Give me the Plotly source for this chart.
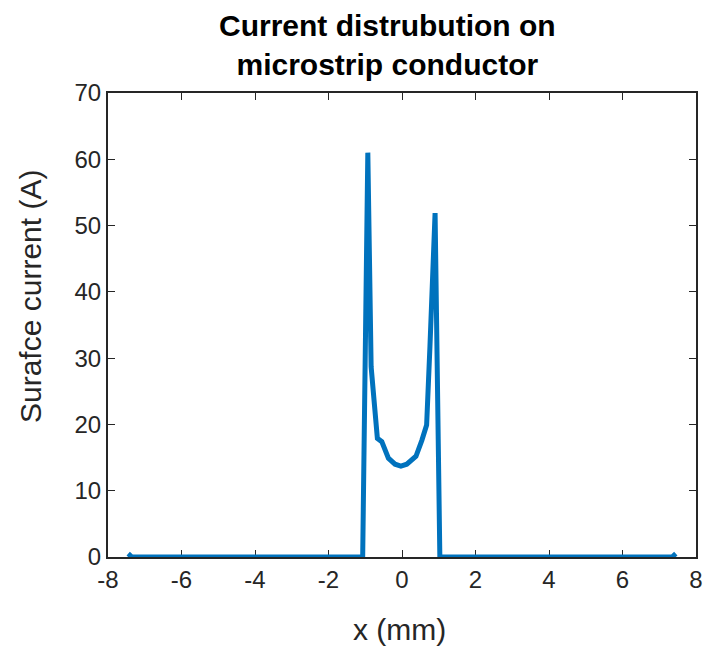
import plotly.graph_objects as go

x_mm = [-7.45, -7.35, -1.07, -0.93, -0.84, -0.67, -0.55, -0.37, -0.19, -0.03, 0.13, 0.38, 0.54, 0.67, 0.76, 0.90, 1.03, 7.35, 7.45]
current_A = [0.5, 0.0, 0.0, 61.0, 28.7, 17.9, 17.4, 14.9, 14.0, 13.7, 14.0, 15.2, 17.6, 19.9, 31.7, 51.9, 0.0, 0.0, 0.5]

x_ticks = [-8, -6, -4, -2, 0, 2, 4, 6, 8]
y_ticks = [0, 10, 20, 30, 40, 50, 60, 70]

axis_col = "#262626"
font_fam = "Liberation Sans, Arial, sans-serif"

fig = go.Figure()
fig.add_trace(go.Scatter(x=x_mm, y=current_A, mode="lines",
                         line=dict(color="#0072BD", width=5), showlegend=False))

fig.update_layout(
    width=703, height=648,
    margin=dict(l=108, r=7, t=93, b=91),
    paper_bgcolor="white", plot_bgcolor="white",
    font=dict(family=font_fam, color=axis_col),
    annotations=[
        dict(text="<b>Current distrubution on<br>microstrip conductor</b>",
             xref="paper", yref="paper", x=0.476, y=1.0, yshift=48,
             xanchor="center", yanchor="middle", showarrow=False,
             font=dict(size=30, color="black", family=font_fam)),
        dict(text="x (mm)", xref="paper", yref="paper", x=0.495, y=0, yshift=-72,
             xanchor="center", yanchor="middle", showarrow=False,
             font=dict(size=30, color=axis_col, family=font_fam)),
        dict(text="Surafce current (A)", xref="paper", yref="paper", x=0, xshift=-78,
             y=0.5, yshift=28, textangle=-90, xanchor="center", yanchor="middle",
             showarrow=False, font=dict(size=30, color=axis_col, family=font_fam)),
    ],
)
fig.update_xaxes(range=[-8, 8], tickvals=x_ticks, ticktext=[str(v) for v in x_ticks],
                 showline=True, linecolor=axis_col, linewidth=2, mirror="ticks",
                 ticks="inside", ticklen=7, tickwidth=1, tickcolor=axis_col,
                 showgrid=False, zeroline=False, layer="below traces", automargin=False,
                 tickfont=dict(size=24, color=axis_col))
fig.update_yaxes(range=[0, 70], tickvals=y_ticks, ticktext=[str(v) for v in y_ticks],
                 showline=True, linecolor=axis_col, linewidth=2, mirror="ticks",
                 ticks="inside", ticklen=7, tickwidth=1, tickcolor=axis_col,
                 showgrid=False, zeroline=False, layer="below traces", automargin=False,
                 tickfont=dict(size=24, color=axis_col))

fig.write_html("out.html")
